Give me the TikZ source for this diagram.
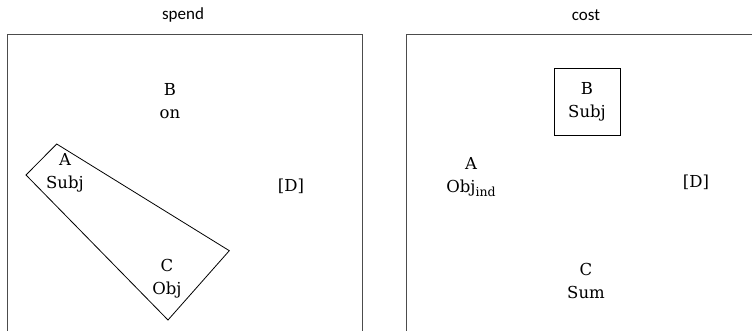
\documentclass[tikz,border=0pt]{standalone}
\usepackage{fontspec}
\setmainfont{DejaVu Serif}
\newfontfamily\titlefont{Carlito}
\newcommand{\mysubs}[1]{\raisebox{-0.25em}{\fontsize{12.5}{14}\selectfont #1}}
\begin{document}
\begin{tikzpicture}[x=1pt,y=-1pt,
  lbl/.style={align=center,inner sep=0pt,font=\fontsize{16.5}{23}\selectfont},
  ttl/.style={inner sep=0pt,font=\titlefont\fontsize{17}{20}\selectfont},
  frame/.style={draw=black!70,line width=1pt},
  hull/.style={draw=black,line width=0.8pt,line join=miter}]
\useasboundingbox (0,0) rectangle (752,331);
% titles
\node[ttl] (t1) at (183,15) {spend};
\node[ttl] (t2) at (586,15) {cost};
% frames
\draw[frame] (7,331) -- (7,35) -- (362,35) -- (362,331);
\draw[frame] (406,331) -- (406,35) -- (752,35);
% left panel
\node[lbl] (lB) at (170,101) {B\\on};
\node[lbl] (lA) at (65,173) {A\\Subj};
\node[lbl] (lC) at (167,279) {C\\Obj};
\node[lbl] (lD) at (291,186) {[D]};
\coordinate (q1) at (56.7,144);
\coordinate (q2) at (26,175);
\coordinate (q3) at (168,320);
\coordinate (q4) at (229.3,250.7);
\draw[hull] (q1) -- (q2) -- (q3) -- (q4) -- cycle;
% right panel
\node[lbl,draw=black,line width=0.8pt,minimum width=66,minimum height=67] (rB) at (587,102) {B\\Subj};
\node[lbl] (rA) at (471,177) {A\\Obj\mysubs{ind}};
\node[lbl] (rC) at (586,281) {C\\Sum};
\node[lbl] (rD) at (696,182) {[D]};
\end{tikzpicture}
\end{document}
